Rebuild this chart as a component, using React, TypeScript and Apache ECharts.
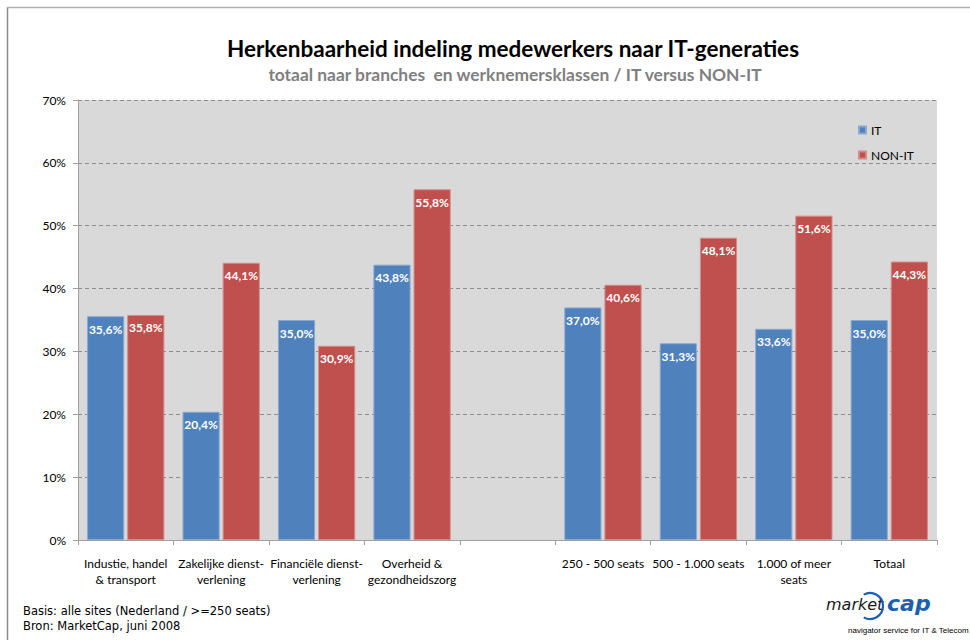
import React, { useEffect, useRef } from "react";
import * as echarts from "echarts";

const categories = [
  "Industie, handel\n& transport",
  "Zakelijke dienst-\nverlening",
  "Financiële dienst-\nverlening",
  "Overheid &\ngezondheidszorg",
  "",
  "250 - 500 seats",
  "500 - 1.000 seats",
  "1.000 of meer\nseats",
  "Totaal",
];
const itValues = [35.6, 20.4, 35.0, 43.8, null, 37.0, 31.3, 33.6, 35.0];
const nonItValues = [35.8, 44.1, 30.9, 55.8, null, 40.6, 48.1, 51.6, 44.3];
const yTicks = [0, 10, 20, 30, 40, 50, 60, 70];

const FONT = "Lato, 'Noto Sans', sans-serif";

export default function App() {
  const ref = useRef<HTMLDivElement>(null);
  useEffect(() => {
    if (!ref.current) return;
    const chart = echarts.init(ref.current, null, { renderer: "svg" });
    const label = {
      show: true,
      position: "insideTop",
      distance: 7,
      color: "#ffffff",
      fontWeight: "bold",
      fontSize: 12,
      fontFamily: FONT,
      formatter: (p: any) => p.value.toFixed(1).replace(".", ",") + "%",
    };
    chart.setOption({
      animation: false,
      backgroundColor: "#ffffff",
      title: [
        {
          text: "Herkenbaarheid indeling medewerkers naar IT-generaties",
          left: 508,
          textAlign: "center",
          top: 32,
          textStyle: { fontSize: 22.5, fontWeight: "bold", color: "#000", fontFamily: FONT },
        },
        {
          text: "totaal naar branches  en werknemersklassen / IT versus NON-IT",
          left: 510,
          textAlign: "center",
          top: 61,
          textStyle: { fontSize: 17.4, fontWeight: "bold", color: "#808080", fontFamily: FONT },
        },
      ],
      legend: {
        orient: "vertical",
        left: 853,
        top: 119,
        itemWidth: 7,
        itemHeight: 7,
        itemGap: 13,
        icon: "rect",
        data: ["IT", "NON-IT"],
        textStyle: { fontSize: 12, color: "#000", fontFamily: FONT },
      },
      grid: {
        left: 78,
        right: 33,
        top: 100,
        bottom: 100,
        show: true,
        backgroundColor: "#d9d9d9",
        borderWidth: 0,
      },
      xAxis: {
        type: "category",
        data: categories,
        axisLine: { show: true, lineStyle: { color: "#a0a0a0", width: 1 } },
        axisTick: { show: true, alignWithLabel: false, length: 5, lineStyle: { color: "#a0a0a0" } },
        axisLabel: {
          interval: 0,
          color: "#000",
          fontSize: 12,
          lineHeight: 16,
          margin: 15,
          fontFamily: FONT,
        },
      },
      yAxis: {
        type: "value",
        min: 0,
        max: 70,
        interval: 10,
        axisLine: { show: true, lineStyle: { color: "#a0a0a0", width: 1 } },
        axisTick: { show: true, length: 5, lineStyle: { color: "#a0a0a0" } },
        axisLabel: {
          color: "#000",
          fontSize: 12,
          margin: 12,
          fontFamily: FONT,
          formatter: (v: number) => (yTicks.includes(v) ? v + "%" : ""),
        },
        splitLine: { show: true, lineStyle: { color: "#8c8c8c", type: [4, 3], width: 1 } },
      },
      series: [
        {
          name: "IT",
          type: "bar",
          data: itValues,
          barGap: "8%",
          barCategoryGap: "19%",
          itemStyle: { color: "#4f81bd", borderColor: "#8aa9d0", borderWidth: 1 },
          label,
        },
        {
          name: "NON-IT",
          type: "bar",
          data: nonItValues,
          itemStyle: { color: "#c0504d", borderColor: "#d48a88", borderWidth: 1 },
          label,
        },
      ],
      graphic: [
        {
          type: "line",
          shape: { x1: 7.5, y1: 7, x2: 7.5, y2: 640 },
          style: { stroke: "#8c8c8c", lineWidth: 1.5 },
        },
        {
          type: "line",
          shape: { x1: 7, y1: 7.5, x2: 970, y2: 7.5 },
          style: { stroke: "#b0b0b0", lineWidth: 1.5 },
        },
        {
          type: "text",
          left: 23,
          top: 603,
          style: {
            text: "Basis: alle sites (Nederland / >=250 seats)\nBron: MarketCap, juni 2008",
            fontSize: 11.5,
            lineHeight: 15,
            fill: "#000",
            fontFamily: "'DejaVu Sans', Verdana, sans-serif",
          },
        },
        {
          type: "text",
          left: 826,
          top: 596,
          style: {
            text: "market",
            fontSize: 16,
            fontStyle: "italic",
            fill: "#1a1a1a",
            fontFamily: "'DejaVu Sans', sans-serif",
          },
        },
        {
          type: "arc",
          shape: { cx: 870, cy: 606, r: 13, startAngle: -Math.PI / 2 - 0.5, endAngle: Math.PI / 2 + 0.5 },
          style: { stroke: "#1a5fb4", lineWidth: 2.2, fill: null },
        },
        {
          type: "text",
          left: 887,
          top: 592,
          style: {
            text: "cap",
            fontSize: 22,
            fontStyle: "italic",
            fontWeight: "bold",
            fill: "#1a5fb4",
            fontFamily: "'DejaVu Sans', sans-serif",
          },
        },
        {
          type: "text",
          left: 848,
          top: 626,
          style: {
            text: "navigator service for IT & Telecom",
            fontSize: 8,
            fill: "#000",
            fontFamily: "'Liberation Sans', sans-serif",
          },
        },
      ],
    });
    return () => chart.dispose();
  }, []);
  return (
    <div
      ref={ref}
      style={{ position: "absolute", left: 0, top: 0, width: 970, height: 640 }}
    />
  );
}
